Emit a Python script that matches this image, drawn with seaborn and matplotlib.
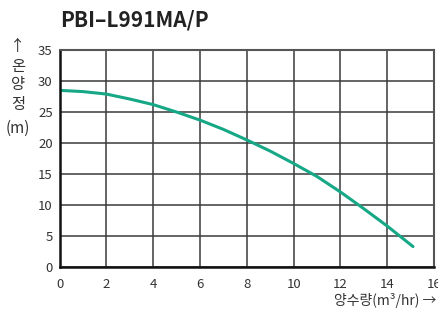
import pandas as pd
import matplotlib
matplotlib.use("Agg")
import matplotlib.pyplot as plt
import seaborn as sns

# Pump curve (flow m3/hr vs head m)
flow = [0, 1, 2, 3, 4, 5, 6, 7, 8, 9, 10, 11, 12, 13, 14, 15.1]
head = [28.5, 28.3, 27.9, 27.1, 26.2, 25.0, 23.7, 22.2, 20.5, 18.7, 16.7, 14.6, 12.1, 9.4, 6.6, 3.3]
x_ticks = [0, 2, 4, 6, 8, 10, 12, 14, 16]
y_ticks = [0, 5, 10, 15, 20, 25, 30, 35]
y_label_parts = ["↑", "온", "양", "정", "(m)"]

df = pd.DataFrame({"flow": flow, "head": head})

sns.set_theme(style="white")
plt.rcParams['font.family'] = ['Noto Sans CJK KR', 'DejaVu Sans']

fig = plt.figure(figsize=(4.38, 3.11), dpi=100)
ax = fig.add_axes([0.136, 0.1415, 0.855, 0.6975])

sns.lineplot(data=df, x="flow", y="head", color="#16a886", linewidth=2.2, ax=ax)

ax.set_xlim(0, 16)
ax.set_ylim(0, 35)
ax.set_xticks(x_ticks)
ax.set_yticks(y_ticks)
ax.grid(True, color="#3a3a3a", linewidth=1.1)
ax.set_axisbelow(True)
ax.tick_params(axis="both", length=0, labelsize=9.5, labelcolor="#333333")
ax.tick_params(axis="x", pad=8)
ax.tick_params(axis="y", pad=5)
ax.set_xlabel("")
ax.set_ylabel("")

for side in ["left", "bottom"]:
    ax.spines[side].set_color("#111111")
    ax.spines[side].set_linewidth(1.8)
for side in ["top", "right"]:
    ax.spines[side].set_color("#555555")
    ax.spines[side].set_linewidth(1.5)

fig.text(60 / 438, 1 - 20 / 311, "PBI–L991MA/P", fontsize=15, fontweight="bold",
         color="#222222", ha="left", va="center")

# vertical stacked y label, one piece per line
y_pos = [47, 66, 85, 105, 128]
for part, yp in zip(y_label_parts, y_pos):
    fig.text(18 / 438, 1 - yp / 311, part, fontsize=11, color="#333333",
             ha="center", va="center")

fig.text(436 / 438, 1 - 300 / 311, "양수량(m³/hr) →", fontsize=10, color="#333333",
         ha="right", va="center")

fig.savefig("out.png", dpi=100)
